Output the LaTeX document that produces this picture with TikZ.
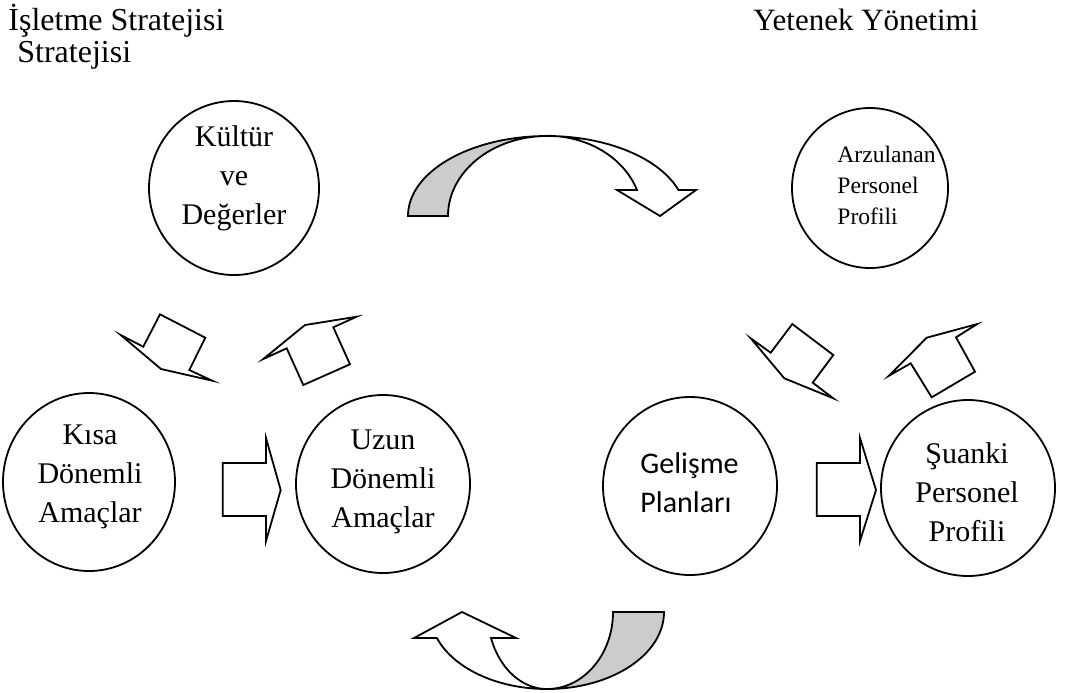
\documentclass[tikz,border=0pt]{standalone}
\usepackage{fontspec}
\setmainfont{Liberation Serif}
\newfontfamily\calibri{Carlito}
\usetikzlibrary{shapes.geometric}

\begin{document}
\begin{tikzpicture}[x=0.5pt, y=-0.5pt,
    blob/.style={ellipse, draw, line width=0.9pt, inner sep=0pt},
    txt/.style={align=center, inner sep=0pt, font=\fontsize{15}{19.5}\selectfont},
    smalltxt/.style={align=left, inner sep=0pt, font=\fontsize{11.8}{15.5}\selectfont},
    ttl/.style={inner sep=0pt, font=\fontsize{16}{16}\selectfont},
    band/.style={draw, line width=0.9pt, fill=white},
    back/.style={band, fill=black!20}]
    \useasboundingbox (0,0) rectangle (1080,692);

    % titles
    \node[ttl, anchor=base west] (t1) at (8,30) {İşletme Stratejisi};
    \node[ttl, anchor=base west] (t2) at (17,62) {Stratejisi};
    \node[ttl, anchor=base west, font=\fontsize{15.5}{15.5}\selectfont] (t3) at (753,30) {Yetenek Yönetimi};

    % circles
    \node[blob, minimum width=85pt, minimum height=87pt] (kultur) at (234,188) {};
    \node[blob, minimum width=78pt, minimum height=80pt] (arzu) at (870,188) {};
    \node[blob, minimum width=86pt, minimum height=89pt] (kisa) at (89,482) {};
    \node[blob, minimum width=87pt, minimum height=89pt] (uzun) at (383,484) {};
    \node[blob, minimum width=87pt, minimum height=89pt] (gelisme) at (690,486) {};
    \node[blob, minimum width=87pt, minimum height=88pt] (suanki) at (968,488) {};

    % texts
    \node[txt] (kulturT) at (234,178) {Kültür\\ve\\Değerler};
    \node[smalltxt, anchor=west] (arzuT) at (837,185) {Arzulanan\\Personel\\Profili};
    \node[txt] (kisaT) at (90,477) {Kısa\\Dönemli\\Amaçlar};
    \node[txt] (uzunT) at (383,482) {Uzun\\Dönemli\\Amaçlar};
    \node[txt, align=left, anchor=west, font=\calibri\fontsize{15}{19.5}\selectfont] (gelismeT) at (640,483) {Gelişme\\Planları};
    \node[txt] (suankiT) at (967,492) {Şuanki\\Personel\\Profili};

    % block arrows
    \draw[band] (222.7,463) -- (266,463) -- (266,438) -- (280.7,490) -- (266,541) -- (266,516) -- (222.7,516) -- cycle;
    \draw[band] (816.7,463) -- (860,463) -- (860,438) -- (876,490) -- (860,541) -- (860,516) -- (816.7,516) -- cycle;
    \draw[band] (120.7,335) -- (143.3,346.7) -- (160,314.3) -- (205.3,337.7) -- (189.3,370) -- (212.3,380.7) -- (161,369) -- cycle;
    \draw[band] (263.3,359) -- (286.7,348.3) -- (303.3,385) -- (350,364.3) -- (333.3,327.3) -- (356.7,316.7) -- (305,325) -- cycle;
    \draw[band] (750.7,338.3) -- (770.7,352.7) -- (792.3,324) -- (833.3,355) -- (812.7,382.7) -- (833.3,398.3) -- (784.3,378.3) -- cycle;
    \draw[band] (889,375.7) -- (910.7,363.3) -- (931.7,397.3) -- (975,371.7) -- (956,337.3) -- (977.3,324) -- (926.7,337.7) -- cycle;

    % curved arrow, top
    \draw[band] (547,136) arc[start angle=270, end angle=341, x radius=139, y radius=80]
      -- (696,190) -- (660,216) -- (617,190) -- (637,190)
      arc[start angle=341.2, end angle=270, x radius=95, y radius=80] -- cycle;
    \draw[back] (408,216) arc[start angle=180, end angle=270, x radius=139, y radius=80]
      arc[start angle=270, end angle=180, x radius=99, y radius=80] -- cycle;

    % curved arrow, bottom
    \draw[band] (547,689) arc[start angle=90, end angle=160.3, x radius=117, y radius=77]
      -- (414,638) -- (462,612) -- (516,638) -- (491,638)
      arc[start angle=160.3, end angle=90, x radius=59.5, y radius=77] -- cycle;
    \draw[back] (613,612) -- (664,612) arc[start angle=0, end angle=90, x radius=117, y radius=77]
      arc[start angle=90, end angle=0, x radius=66, y radius=77] -- cycle;
\end{tikzpicture}
\end{document}
